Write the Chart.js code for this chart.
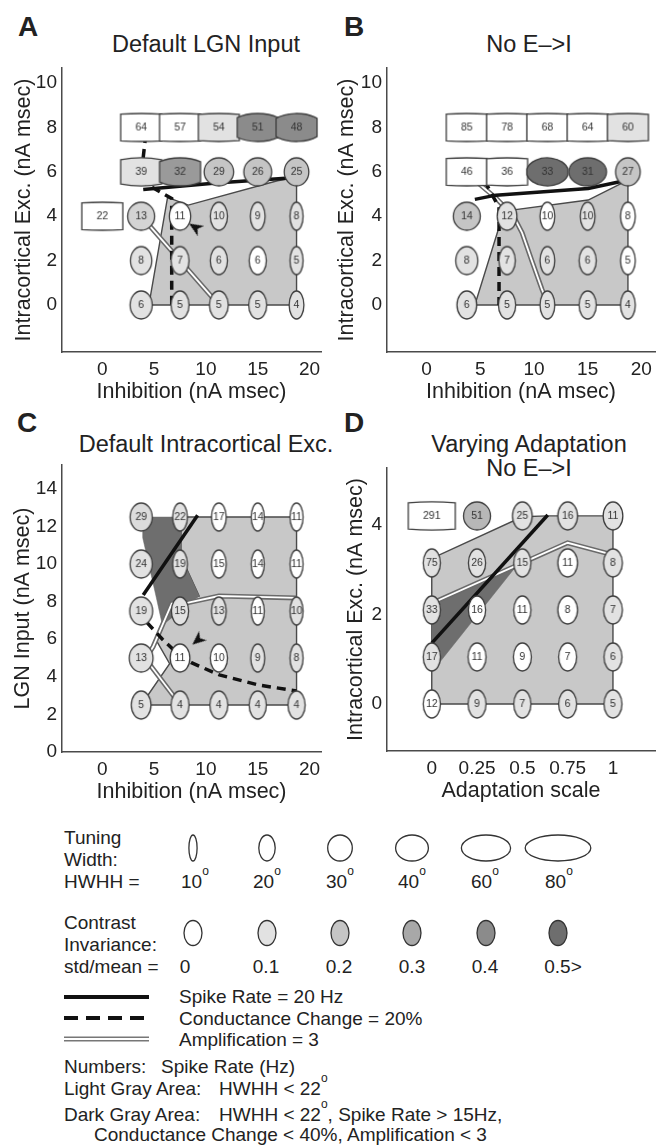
<!DOCTYPE html>
<html>
<head>
<meta charset="utf-8">
<script src="https://cdn.jsdelivr.net/npm/chart.js@4.4.1/dist/chart.umd.min.js"></script>
<style>
body { margin: 0; background: #fff; width: 668px; height: 1145px; position: relative; overflow: hidden;
       font-family: 'Liberation Sans', Arial, Helvetica, sans-serif; color: #222; }
canvas { position: absolute; }
.lbl { position: absolute; font-weight: bold; font-size: 28px; line-height: 1; }
.ttl { position: absolute; font-size: 23.5px; line-height: 1; width: 320px; text-align: center; white-space: nowrap; }
svg { position: absolute; left: 0; }
svg text { font-family: 'Liberation Sans', Arial, Helvetica, sans-serif; font-size: 19px; fill: #222; }
</style>
</head>
<body>

<div class="lbl" style="left:18px;top:13px">A</div>
<div class="lbl" style="left:344px;top:13px">B</div>
<div class="lbl" style="left:17px;top:409px">C</div>
<div class="lbl" style="left:344px;top:409px">D</div>

<div class="ttl" style="left:46px;top:33px">Default LGN Input</div>
<div class="ttl" style="left:369px;top:33px">No E–&gt;I</div>
<div class="ttl" style="left:46px;top:433px">Default Intracortical Exc.</div>
<div class="ttl" style="left:369px;top:433px">Varying Adaptation</div>
<div class="ttl" style="left:369px;top:457px">No E–&gt;I</div>

<canvas id="panelA" width="334" height="410" style="left:0;top:0"></canvas>
<canvas id="panelB" width="334" height="410" style="left:334px;top:0"></canvas>
<canvas id="panelC" width="334" height="400" style="left:0;top:410px"></canvas>
<canvas id="panelD" width="334" height="399" style="left:334px;top:410px"></canvas>

<svg width="668" height="325" viewBox="0 820 668 325" style="top:820px">
  <text x="64" y="844">Tuning</text>
  <text x="64" y="866">Width:</text>
  <text x="64" y="888">HWHH =</text>
  <g id="tuneKey"></g>

  <text x="64" y="929">Contrast</text>
  <text x="64" y="951">Invariance:</text>
  <text x="64" y="973">std/mean =</text>
  <g id="cvKey"></g>

  <line x1="64" y1="997" x2="149" y2="997" stroke="#111" stroke-width="4"/>
  <text x="179" y="1003">Spike Rate = 20 Hz</text>
  <line x1="64" y1="1018" x2="149" y2="1018" stroke="#111" stroke-width="4" stroke-dasharray="14 8"/>
  <text x="179" y="1025">Conductance Change = 20%</text>
  <line x1="64" y1="1039" x2="149" y2="1039" stroke="#777" stroke-width="5"/>
  <line x1="64" y1="1039" x2="149" y2="1039" stroke="#fff" stroke-width="1.8"/>
  <text x="179" y="1046">Amplification = 3</text>

  <text x="64" y="1073">Numbers:</text>
  <text x="161" y="1073">Spike Rate (Hz)</text>
  <text x="64" y="1095">Light Gray Area:</text>
  <text x="219" y="1095">HWHH &lt; 22<tspan dy="-13" font-size="12">o</tspan></text>
  <text x="64" y="1121">Dark Gray Area:</text>
  <text x="219" y="1121">HWHH &lt; 22<tspan dy="-13" font-size="12">o</tspan><tspan dy="13">, Spike Rate &gt; 15Hz,</tspan></text>
  <text x="94" y="1141">Conductance Change &lt; 40%, Amplification &lt; 3</text>
</svg>

<script>
// ---- grid coordinates ----
const inhibGrid = [3.75, 7.5, 11.25, 15, 18.75]
const adaptGrid = [0, 0.25, 0.5, 0.75, 1]
const excGridAB = [0, 2, 4, 6, 8]
const lgnGridC = [2.5, 5, 7.5, 10, 12.5]
const excGridD = [0, 1.05, 2.1, 3.15, 4.2]

// ---- tick values ----
const ticksInhib = [0, 5, 10, 15, 20]
const ticksExcAB = [0, 2, 4, 6, 8, 10]
const ticksLGN = [0, 2, 4, 6, 8, 10, 12, 14]
const ticksExcD = [0, 2, 4]
const ticksAdapt = [0, 0.25, 0.5, 0.75, 1]

// ---- panel A: rows go bottom to top ----
const rateA = [
  [6, 5, 5, 5, 4],
  [8, 7, 6, 6, 5],
  [13, 11, 10, 9, 8],
  [39, 32, 29, 26, 25],
  [64, 57, 54, 51, 48]
]
const hwhhA = [
  [27, 22, 23, 22, 18],
  [26, 22, 21, 21, 16],
  [33, 26, 21, 18, 16],
  [100, 72, 36, 34, 30],
  [160, 160, 150, 70, 66]
]
const cvA = [
  [0.1, 0.1, 0.1, 0.1, 0.1],
  [0.1, 0.1, 0.1, 0, 0.1],
  [0.15, 0, 0.1, 0.1, 0.1],
  [0.1, 0.35, 0.2, 0.2, 0.2],
  [0, 0, 0.1, 0.4, 0.4]
]
const extraA = [[0, 4, 22, 160, 0]]   // x, y, rate, hwhh, cv
const lightA = [[4.5, 0], [6.3, 4.85], [8.3, 4.5], [16.9, 5.6], [18.75, 5.75], [18.75, 0]]
const spikeA = [[3.95, 5.2], [11, 5.5], [18.75, 5.75]]
const condA = [[4.2, 7.7], [3.7, 5.6], [6.7, 4.8], [6.7, 0]]
const ampA = [[3.75, 4], [11.25, 0]]
const arrowA = [[8.95, 3.5]]

// ---- panel B ----
const rateB = [
  [6, 5, 5, 5, 4],
  [8, 7, 6, 6, 5],
  [14, 12, 10, 10, 8],
  [46, 36, 33, 31, 27],
  [85, 78, 68, 64, 60]
]
const hwhhB = [
  [24, 21, 18, 21, 18],
  [27, 20, 18, 21, 18],
  [33, 24, 18, 18, 18],
  [160, 150, 51, 46, 30],
  [160, 160, 160, 160, 150]
]
const cvB = [
  [0.1, 0.1, 0.1, 0.1, 0.1],
  [0.1, 0.1, 0.1, 0.1, 0],
  [0.2, 0.1, 0, 0.1, 0],
  [0, 0, 0.5, 0.5, 0.2],
  [0, 0, 0, 0, 0.1]
]
const lightB = [[4.5, 0], [7.0, 3.9], [8.3, 4.3], [15.05, 4.73], [18.75, 5.63], [18.75, 0]]
const spikeB = [[4.5, 4.76], [6.47, 4.95], [15.05, 5.25], [18.75, 5.63]]
const condB = [[5.4, 5.6], [6.75, 4.4], [6.75, 0]]
const ampB = [[3.7, 5.95], [6.5, 4.8], [8.1, 4.0], [8.9, 3.25], [9.8, 2.0], [10.75, 0.7], [11.05, 0.35]]

// ---- panel C ----
const rateC = [
  [5, 4, 4, 4, 4],
  [13, 11, 10, 9, 8],
  [19, 15, 13, 11, 10],
  [24, 19, 15, 14, 11],
  [29, 22, 17, 14, 11]
]
const hwhhC = [
  [24, 22, 22, 21, 21],
  [29, 24, 21, 17, 16],
  [28, 21, 18, 16, 16],
  [27, 18, 18, 16, 16],
  [27, 18, 18, 16, 16]
]
const cvC = [
  [0.1, 0.1, 0.1, 0.1, 0.1],
  [0.1, 0, 0, 0.1, 0.1],
  [0.1, 0.1, 0.1, 0, 0.1],
  [0.1, 0.1, 0, 0, 0],
  [0.12, 0.1, 0, 0, 0]
]
const lightC = [[3.75, 2.5], [18.75, 2.5], [18.75, 12.5], [7.6, 12.5], [7.6, 10.4], [9.35, 8.3], [6.7, 7.9], [5.2, 5.95], [6.5, 4.7]]
const darkC = [[3.9, 12.5], [7.6, 12.5], [7.6, 10.4], [9.35, 8.3], [5.8, 6.75], [5.2, 8.25], [3.9, 11.4]]
const spikeC = [[9.2, 12.6], [3.95, 8.35]]
const condC = [[4.3, 6.9], [5.8, 6.0], [7.5, 5.1], [8.6, 4.75], [11.3, 4.1], [15.1, 3.56], [18.75, 3.25]]
const ampC1 = [[18.75, 8.2], [15, 8.25], [11.25, 8.3], [8.3, 7.95], [6.7, 7.9], [4.9, 5.6], [4.2, 5.0]]
const ampC2 = [[4.1, 5.0], [7.2, 2.75]]
const arrowC = [[9.2, 5.95]]

// ---- panel D ----
const rateD = [
  [12, 9, 7, 6, 5],
  [17, 11, 9, 7, 6],
  [33, 16, 11, 8, 7],
  [75, 26, 15, 11, 8],
  [291, 51, 25, 16, 11]
]
const hwhhD = [
  [21, 22, 21, 22, 22],
  [21, 22, 22, 22, 22],
  [21, 21, 21, 24, 23],
  [21, 21, 21, 24, 23],
  [160, 33, 24, 24, 24]
]
const cvD = [
  [0, 0.1, 0.1, 0.1, 0.1],
  [0.1, 0, 0, 0, 0.1],
  [0.1, 0, 0, 0, 0.1],
  [0.1, 0.1, 0.1, 0, 0.1],
  [0, 0.25, 0.1, 0.1, 0.1]
]
const lightD = [[0, 0], [1, 0], [1, 4.2], [0.64, 4.2], [0.5, 4.18], [0, 3.25]]
const darkD = [[0, 2.26], [0.48, 3.15], [0.01, 0.76], [0, 0.8]]
const spikeD = [[0, 1.36], [0.64, 4.22]]
const ampD = [[0, 2.25], [0.5, 3.15], [0.75, 3.6], [1, 3.33]]

// ---- legend keys ----
const keyHwhh = [10, 20, 30, 40, 60, 80]
const keyCv = [0, 0.1, 0.2, 0.3, 0.4, 0.5]
const keyCvLabels = ['0', '0.1', '0.2', '0.3', '0.4', '0.5>']

Chart.defaults.font.family = "'Liberation Sans', Arial, Helvetica, sans-serif"
Chart.defaults.color = '#222'
Chart.defaults.animation = false

const ELL_H = 28

function hwhhToPx(h) { return 0.82 * h }

function cvToGray(cv) {
  let g = Math.max(105, Math.round(255 - cv * 290))
  return 'rgb(' + g + ',' + g + ',' + g + ')'
}

// ellipse for one grid cell, clipped to the cell width when too wide
function cellIcon(rate, hwhh, cv, clipW) {
  let w = hwhhToPx(hwhh)
  let cw = Math.min(w, clipW)
  let c = document.createElement('canvas')
  c.width = Math.ceil(cw) + 4
  c.height = ELL_H + 4
  let g = c.getContext('2d')
  let cx = c.width / 2, cy = c.height / 2
  let a = w / 2, b = ELL_H / 2
  g.beginPath()
  if (w <= clipW) {
    g.ellipse(cx, cy, a, b, 0, 0, 2 * Math.PI)
  } else {
    let t = Math.acos((cw / 2) / a)
    g.ellipse(cx, cy, a, b, 0, -Math.PI + t, -t)
    g.ellipse(cx, cy, a, b, 0, t, Math.PI - t)
    g.closePath()
  }
  g.fillStyle = cvToGray(cv)
  g.fill()
  g.strokeStyle = '#3d3d3d'
  g.lineWidth = 1.3
  g.stroke()
  g.fillStyle = '#333'
  g.font = "10.5px 'Liberation Sans', Arial, sans-serif"
  g.textAlign = 'center'
  g.textBaseline = 'middle'
  g.fillText(String(rate), cx, cy + 0.5)
  return c
}

function arrowIcon() {
  let c = document.createElement('canvas')
  c.width = 16
  c.height = 14
  let g = c.getContext('2d')
  g.fillStyle = '#111'
  g.beginPath()
  g.moveTo(15, 7)
  g.lineTo(1, 1)
  g.lineTo(5, 7)
  g.lineTo(1, 13)
  g.closePath()
  g.fill()
  return c
}

function xy(arr) { return arr.map(p => ({x: p[0], y: p[1]})) }

function lineSet(arr, color, width, order) {
  return {type: 'line', data: xy(arr), borderColor: color, borderWidth: width,
          pointRadius: 0, fill: false, order: order, borderCapStyle: 'butt'}
}

function polySet(arr, color, border, order) {
  let d = xy(arr)
  d.push(d[0])
  return {type: 'line', data: d, fill: 'shape', backgroundColor: color,
          borderColor: border ? '#4a4a4a' : color, borderWidth: border ? 1.4 : 0.5,
          pointRadius: 0, order: order}
}

function makePanel(cfg) {
  let pts = [], icons = []
  cfg.ys.forEach((y, i) => {
    cfg.xs.forEach((x, j) => {
      pts.push({x: x, y: y})
      icons.push(cellIcon(cfg.rate[i][j], cfg.hwhh[i][j], cfg.cv[i][j], cfg.cellW))
    })
  })
  cfg.extra.forEach(e => {
    pts.push({x: e[0], y: e[1]})
    icons.push(cellIcon(e[2], e[3], e[4], cfg.cellW))
  })

  let datasets = [{type: 'scatter', data: pts, pointStyle: icons, pointRadius: 12, order: 0}]
  if (cfg.arrow) {
    datasets.push({type: 'scatter', data: xy(cfg.arrow), pointStyle: arrowIcon(),
                   pointRotation: cfg.arrowRot, pointRadius: 6, order: 0})
  }
  if (cfg.spike) datasets.push(lineSet(cfg.spike, '#111', 3.5, 1))
  if (cfg.cond) {
    let d = lineSet(cfg.cond, '#111', 3.5, 2)
    d.borderDash = [9, 6]
    datasets.push(d)
  }
  cfg.amp.forEach(a => {
    datasets.push(lineSet(a, '#ffffff', 1.8, 3))
    datasets.push(lineSet(a, '#6a6a6a', 5, 4))
  })
  if (cfg.dark) datasets.push(polySet(cfg.dark, '#6e6e6e', false, 5))
  datasets.push(polySet(cfg.light, '#c8c8c8', true, 6))

  new Chart(document.getElementById(cfg.id), {
    type: 'scatter',
    data: {datasets: datasets},
    options: {
      responsive: false,
      animation: false,
      events: [],
      layout: {padding: {top: cfg.padTop, right: cfg.padRight, left: 0, bottom: 0}},
      plugins: {legend: {display: false}, tooltip: {enabled: false}},
      scales: {
        x: {
          type: 'linear', min: cfg.xMin, max: cfg.xMax,
          afterBuildTicks: s => { s.ticks = cfg.xTicks.map(v => ({value: v})) },
          afterFit: s => { s.height = 58 },
          grid: {display: false, drawTicks: false, tickLength: 0},
          border: {color: '#4a4a4a', width: 1.5},
          ticks: {font: {size: 19}, padding: 6, autoSkip: false, maxRotation: 0, callback: v => String(v)},
          title: {display: true, text: cfg.xTitle, font: {size: 21.5}, padding: {top: 0, bottom: 5}}
        },
        y: {
          type: 'linear', min: cfg.yMin, max: cfg.yMax,
          afterBuildTicks: s => { s.ticks = cfg.yTicks.map(v => ({value: v})) },
          afterFit: s => { s.width = cfg.yWidth },
          grid: {display: false, drawTicks: false, tickLength: 0},
          border: {color: '#4a4a4a', width: 1.5},
          ticks: {font: {size: 19}, padding: 5, autoSkip: false, callback: v => String(v)},
          title: {display: true, text: cfg.yTitle, font: {size: 21.5}, padding: {top: cfg.yTitlePad, bottom: 0}}
        }
      }
    }
  })
}

makePanel({
  id: 'panelA', xs: inhibGrid, ys: excGridAB, rate: rateA, hwhh: hwhhA, cv: cvA, extra: extraA,
  light: lightA, spike: spikeA, cond: condA, amp: [ampA], arrow: arrowA, arrowRot: -148,
  cellW: 41, padTop: 68, padRight: 2, yWidth: 62, yTitlePad: 11,
  xMin: -3.89, xMax: 21.11, yMin: -2.12, yMax: 10.68, xTicks: ticksInhib, yTicks: ticksExcAB,
  xTitle: 'Inhibition (nA msec)', yTitle: 'Intracortical Exc. (nA msec)'
})

makePanel({
  id: 'panelB', xs: inhibGrid, ys: excGridAB, rate: rateB, hwhh: hwhhB, cv: cvB, extra: [],
  light: lightB, spike: spikeB, cond: condB, amp: [ampB],
  cellW: 41, padTop: 68, padRight: 10, yWidth: 53, yTitlePad: 0,
  xMin: -3.68, xMax: 21.27, yMin: -2.12, yMax: 10.68, xTicks: ticksInhib, yTicks: ticksExcAB,
  xTitle: 'Inhibition (nA msec)', yTitle: 'Intracortical Exc. (nA msec)'
})

makePanel({
  id: 'panelC', xs: inhibGrid, ys: lgnGridC, rate: rateC, hwhh: hwhhC, cv: cvC, extra: [],
  light: lightC, dark: darkC, spike: spikeC, cond: condC, amp: [ampC1, ampC2], arrow: arrowC, arrowRot: 140,
  cellW: 41, padTop: 55, padRight: 2, yWidth: 62, yTitlePad: 10,
  xMin: -3.89, xMax: 21.11, yMin: 0, yMax: 15.27, xTicks: ticksInhib, yTicks: ticksLGN,
  xTitle: 'Inhibition (nA msec)', yTitle: 'LGN Input (nA msec)'
})

makePanel({
  id: 'panelD', xs: adaptGrid, ys: excGridD, rate: rateD, hwhh: hwhhD, cv: cvD, extra: [],
  light: lightD, dark: darkD, spike: spikeD, amp: [ampD],
  cellW: 47, padTop: 58, padRight: 0, yWidth: 53, yTitlePad: 9,
  xMin: -0.247, xMax: 1.232, yMin: -1.05, yMax: 5.27, xTicks: ticksAdapt, yTicks: ticksExcD,
  xTitle: 'Adaptation scale', yTitle: 'Intracortical Exc. (nA msec)'
})

// legend keys
const NS = 'http://www.w3.org/2000/svg'
const keyX = [193, 267, 340, 412, 486, 558]
const degX = [181, 253, 326, 398, 471, 545]
const cvLabelX = [185, 266, 339, 412, 485, 563]

function svgEl(tag, attrs, parent) {
  let el = document.createElementNS(NS, tag)
  for (const [k, v] of Object.entries(attrs)) el.setAttribute(k, v)
  parent.appendChild(el)
  return el
}

let tuneKey = document.getElementById('tuneKey')
keyHwhh.forEach((h, i) => {
  svgEl('ellipse', {cx: keyX[i], cy: 848, rx: hwhhToPx(h) / 2, ry: 13, fill: '#fff', stroke: '#333', 'stroke-width': 1.3}, tuneKey)
  let t = svgEl('text', {x: degX[i], y: 888}, tuneKey)
  t.textContent = String(h)
  let sup = svgEl('tspan', {dy: -13, 'font-size': 12}, t)
  sup.textContent = 'o'
})

let cvKey = document.getElementById('cvKey')
keyCv.forEach((v, i) => {
  svgEl('ellipse', {cx: keyX[i], cy: 933, rx: 9, ry: 12.5, fill: cvToGray(v), stroke: '#333', 'stroke-width': 1.3}, cvKey)
  let t = svgEl('text', {x: cvLabelX[i], y: 973, 'text-anchor': 'middle'}, cvKey)
  t.textContent = keyCvLabels[i]
})
</script>
</body>
</html>
